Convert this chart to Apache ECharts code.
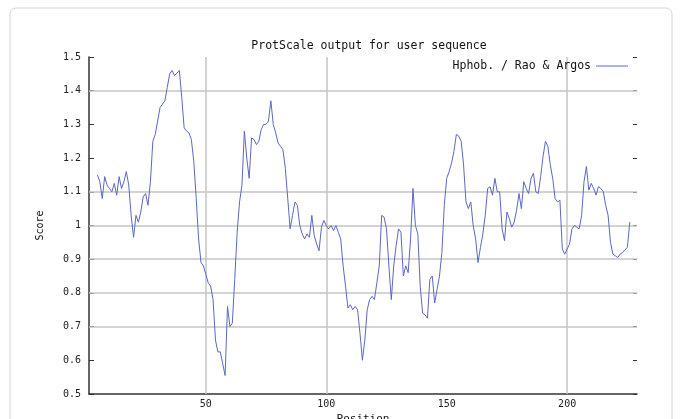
<!DOCTYPE html>
<html>
<head>
<meta charset="utf-8">
<script src="https://cdn.jsdelivr.net/npm/echarts@6/dist/echarts.min.js"></script>
<style>
  html, body { margin: 0; padding: 0; background: #ffffff; }
  #chart { width: 681px; height: 419px; }
</style>
</head>
<body>
<div id="chart"></div>
<script>
// ProtScale hydrophobicity profile (Rao & Argos scale, window 9)
var titleText = 'ProtScale output for user sequence';
var seriesName = 'Hphob. / Rao & Argos';
var firstPosition = 5;
var scores = [
  1.15, 1.13, 1.08, 1.145, 1.12, 1.11, 1.10, 1.125, 1.09, 1.145,
  1.11, 1.13, 1.16, 1.12, 1.03, 0.965, 1.03, 1.01, 1.04, 1.085,
  1.095, 1.06, 1.13, 1.25, 1.27, 1.31, 1.35, 1.36, 1.37, 1.41,
  1.45, 1.46, 1.445, 1.452, 1.46, 1.38, 1.29, 1.28, 1.275, 1.255,
  1.19, 1.08, 0.96, 0.89, 0.88, 0.855, 0.83, 0.82, 0.78, 0.66,
  0.625, 0.625, 0.59, 0.555, 0.76, 0.70, 0.71, 0.84, 0.98, 1.07,
  1.12, 1.28, 1.20, 1.14, 1.26, 1.255, 1.24, 1.25, 1.285, 1.30,
  1.30, 1.31, 1.37, 1.30, 1.275, 1.245, 1.235, 1.225, 1.17, 1.08,
  0.99, 1.03, 1.07, 1.06, 1.00, 0.975, 0.96, 0.975, 0.965, 1.03,
  0.97, 0.945, 0.925, 0.995, 1.015, 1.00, 0.99, 1.00, 0.985, 1.00,
  0.98, 0.96, 0.88, 0.82, 0.755, 0.765, 0.75, 0.76, 0.75, 0.68,
  0.60, 0.66, 0.75, 0.78, 0.79, 0.78, 0.83, 0.88, 1.03, 1.025,
  0.99, 0.88, 0.78, 0.88, 0.94, 0.99, 0.98, 0.85, 0.88, 0.86,
  0.96, 1.11, 1.00, 0.975, 0.82, 0.74, 0.735, 0.725, 0.84, 0.85,
  0.77, 0.81, 0.85, 0.92, 1.06, 1.14, 1.16, 1.185, 1.22, 1.27,
  1.265, 1.25, 1.18, 1.07, 1.05, 1.07, 1.00, 0.96, 0.89, 0.935,
  0.975, 1.03, 1.11, 1.115, 1.09, 1.14, 1.10, 1.10, 0.99, 0.955,
  1.04, 1.02, 0.995, 1.01, 1.045, 1.095, 1.05, 1.13, 1.11, 1.095,
  1.14, 1.155, 1.10, 1.095, 1.145, 1.205, 1.25, 1.235, 1.18, 1.14,
  1.08, 1.07, 1.075, 0.93, 0.915, 0.93, 0.945, 0.99, 1.00, 0.995,
  0.99, 1.03, 1.13, 1.175, 1.105, 1.125, 1.11, 1.09, 1.115, 1.11,
  1.10, 1.06, 1.03, 0.95, 0.915, 0.91, 0.905, 0.915, 0.92, 0.928,
  0.935, 1.01
];
// grid lines drawn on the plot
var xGridValues = [50, 100, 200];
var yGridValues = [1.4, 1.1, 1.0, 0.9, 0.8, 0.7];

var points = scores.map(function (v, i) { return [firstPosition + i, v]; });

var mono = '"DejaVu Sans Mono", "Liberation Mono", monospace';
var chart = echarts.init(document.getElementById('chart'), null, { renderer: 'canvas' });

var gridLines = xGridValues.map(function (x) { return { xAxis: x }; })
  .concat(yGridValues.map(function (y) { return { yAxis: y }; }));

chart.setOption({
  backgroundColor: '#ffffff',
  animation: false,
  title: {
    text: titleText,
    left: 364, top: 35, textAlign: 'center',
    textStyle: { fontFamily: mono, fontSize: 11.5, fontWeight: 'normal', color: '#111' }
  },
  legend: {
    data: [seriesName],
    right: 53, top: 60, padding: 0,
    align: 'right',
    icon: 'rect', itemWidth: 32, itemHeight: 1, itemGap: 6,
    textStyle: { fontFamily: mono, fontSize: 11.5, color: '#111' }
  },
  graphic: [{
    type: 'rect', silent: true, z: -10,
    shape: { x: 10, y: 8, width: 662, height: 440, r: 6 },
    style: { fill: 'none', stroke: '#d6d6d6', lineWidth: 1 }
  }],
  grid: { left: 89, right: 44, top: 57, bottom: 25, containLabel: false, outerBoundsMode: 'none' },
  xAxis: {
    type: 'value', min: 1.5, max: 229,
    name: 'Position', nameLocation: 'middle', nameGap: 16,
    nameTextStyle: { fontFamily: mono, fontSize: 11, color: '#111' },
    axisLine: { lineStyle: { color: '#333', width: 1.5 } },
    axisTick: { show: false },
    splitLine: { show: false },
    axisLabel: {
      fontFamily: mono, fontSize: 10, color: '#222', margin: 5,
      formatter: function (v) { return v % 50 === 0 ? String(v) : ''; }
    }
  },
  yAxis: [{
    type: 'value', min: 0.5, max: 1.5, interval: 0.1,
    name: 'Score', nameLocation: 'middle', nameGap: 44, nameRotate: 90,
    nameTextStyle: { fontFamily: mono, fontSize: 10, color: '#111' },
    axisLine: { show: true, lineStyle: { color: '#333', width: 1.5 } },
    axisTick: { show: true, inside: true, length: 5, lineStyle: { color: '#333' } },
    splitLine: { show: false },
    axisLabel: {
      fontFamily: mono, fontSize: 10, color: '#222', margin: 8,
      formatter: function (v) { return String(Math.round(v * 10) / 10); }
    }
  }, {
    type: 'value', min: 0.5, max: 1.5, interval: 0.1, position: 'right',
    axisLine: { show: false },
    axisTick: { show: true, inside: true, length: 4, lineStyle: { color: '#333' } },
    axisLabel: { show: false },
    splitLine: { show: false }
  }],
  series: [{
    name: seriesName,
    type: 'line',
    data: points,
    showSymbol: false,
    symbol: 'none',
    lineStyle: { color: '#5b68c4', width: 1 },
    itemStyle: { color: '#5b68c4' },
    markLine: {
      silent: true, symbol: ['none', 'none'],
      label: { show: false },
      lineStyle: { color: '#c4c4c4', width: 1.5, type: 'solid' },
      data: gridLines,
      z: 1
    },
    z: 3
  }]
});
</script>
</body>
</html>
